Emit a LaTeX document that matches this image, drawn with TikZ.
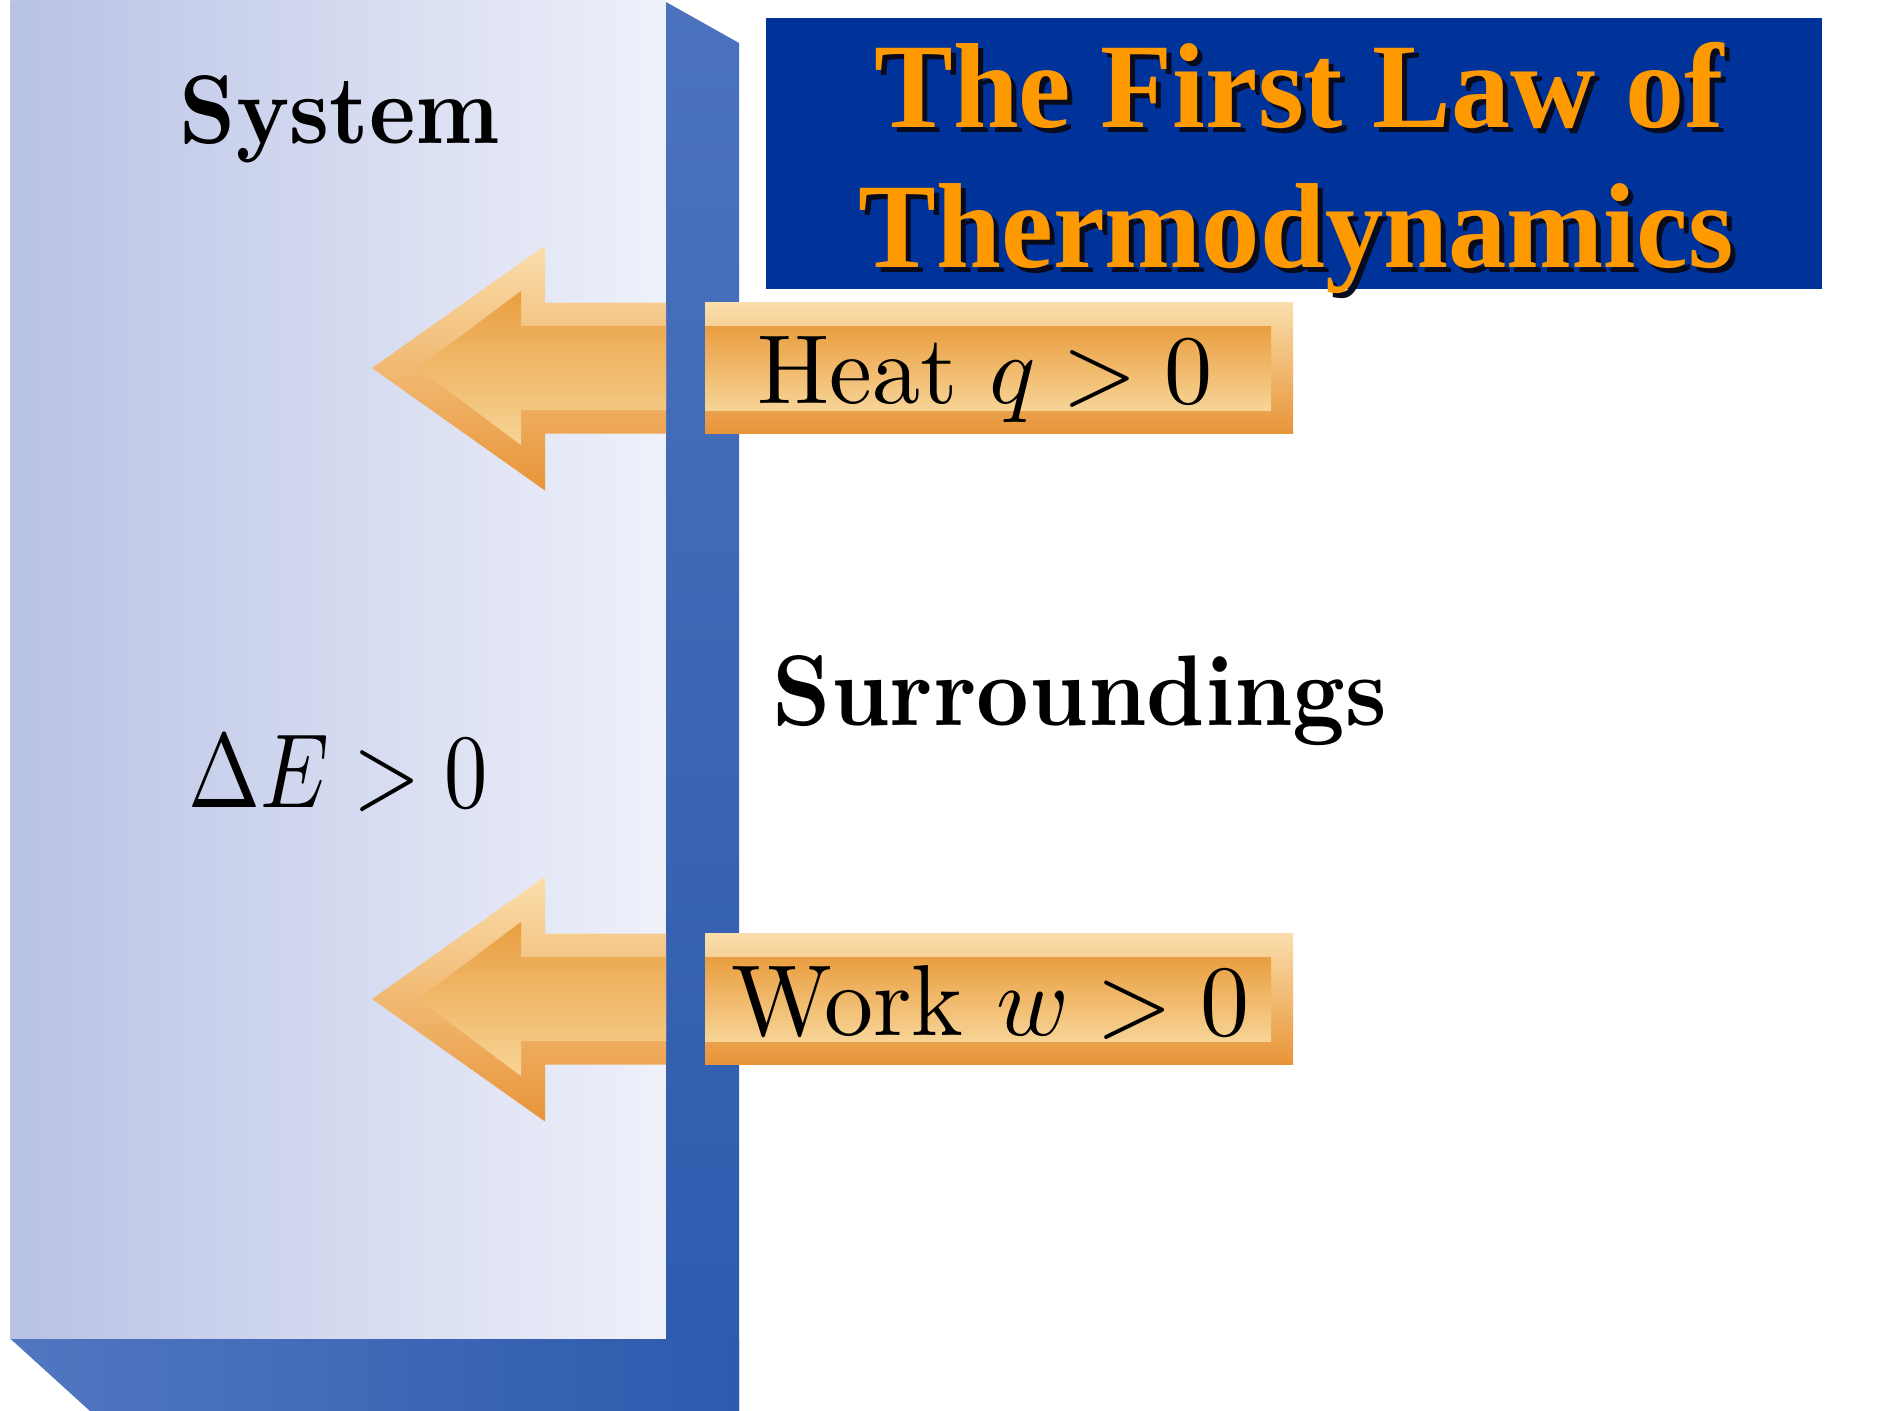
\documentclass[tikz,border=0pt]{standalone}
\usepackage{fontspec}
\usepackage{graphicx}
\newfontfamily\titlefont{Liberation Serif}
\definecolor{panelL}{RGB}{184,194,229}
\definecolor{panelR}{RGB}{239,241,250}
\definecolor{wallT}{RGB}{76,114,190}
\definecolor{wallB}{RGB}{44,90,173}
\definecolor{floorL}{RGB}{82,119,193}
\definecolor{titleblue}{RGB}{0,51,153}
\definecolor{titleorange}{RGB}{255,153,0}
\definecolor{shadowcol}{RGB}{8,10,30}
\definecolor{arrLight}{RGB}{250,222,172}
\definecolor{arrDark}{RGB}{232,148,56}
\definecolor{inDark}{RGB}{233,158,64}
\definecolor{inLight}{RGB}{247,212,150}
\newcommand{\shadowtext}[2]{\makebox[0pt][l]{\hspace{5pt}\raisebox{-5pt}{\scalebox{#1}[1]{\textcolor{shadowcol}{#2}}}}\scalebox{#1}[1]{\textcolor{titleorange}{#2}}}
\tikzset{
  lbl/.style={inner sep=0pt, anchor=base},
  titletext/.style={inner sep=0pt, anchor=base, font=\titlefont\bfseries\fontsize{121}{121}\selectfont},
  outerbevel/.style={top color=arrLight, bottom color=arrDark},
  innerbevel/.style={top color=inDark, bottom color=inLight}
}
\begin{document}
\begin{tikzpicture}[x=1pt,y=-1pt]
\useasboundingbox (0,0) rectangle (1883,1411);
\fill[white] (0,0) rectangle (1883,1411);
% system panel
\shade[left color=panelL, right color=panelR] (10.7,0) rectangle (666,1339);
% wall
\shade[top color=wallT, bottom color=wallB] (666,2) -- (739,43) -- (739,1411) -- (666,1411) -- cycle;
\shade[left color=floorL, right color=wallB] (10.7,1339) -- (739,1339) -- (739,1411) -- (90,1411) -- cycle;
% title box
\fill[titleblue] (766,18) rectangle (1822,289);
\node[titletext] (t1) at (1299,127) {\shadowtext{0.975}{The First Law of}};
\node[titletext] (t2) at (1296,267) {\shadowtext{0.964}{Thermodynamics}};
% arrows
\foreach \cy in {368,999}{
  \shade[outerbevel] (666,\cy-65.5) -- (545,\cy-65.5) -- (545,\cy-122.5) -- (372,\cy) -- (545,\cy+122.5) -- (545,\cy+65.5) -- (666,\cy+65.5) -- cycle;
  \shade[innerbevel] (666,\cy-42) -- (521,\cy-42) -- (521,\cy-77) -- (418,\cy) -- (521,\cy+77) -- (521,\cy+42) -- (666,\cy+42) -- cycle;
  \shade[outerbevel] (705,\cy-65.5) rectangle (1293,\cy+65.5);
  \shade[innerbevel] (705,\cy-42) rectangle (1271,\cy+42);
}
% labels
\node[lbl] (system) at (340,143) {\resizebox{320pt}{68pt}{\bfseries System}};
\node[lbl] (dE) at (338.5,807) {\resizebox{299pt}{72pt}{$\Delta E > 0$}};
\node[lbl] (surr) at (1080,725) {\resizebox{614pt}{70pt}{\bfseries Surroundings}};
\node[lbl] (heat) at (985,403) {\resizebox{455pt}{67pt}{Heat $q > 0$}};
\node[lbl] (work) at (990.5,1035) {\resizebox{517pt}{70pt}{Work $w > 0$}};
\end{tikzpicture}
\end{document}
